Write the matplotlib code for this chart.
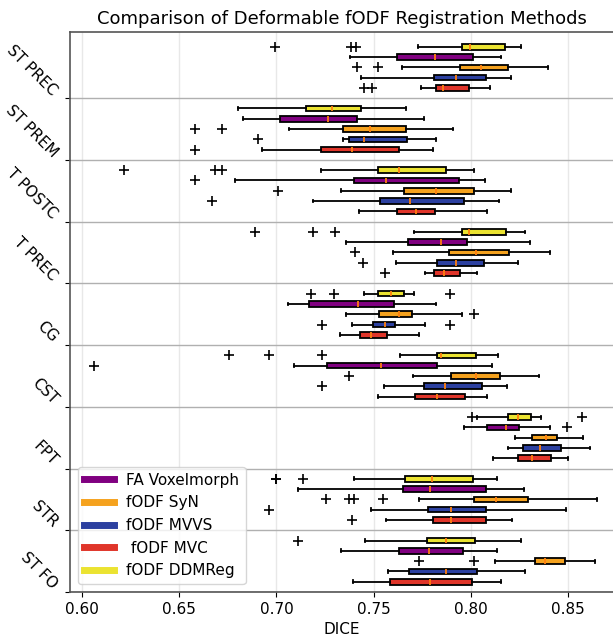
import matplotlib
matplotlib.use("Agg")
import matplotlib.pyplot as plt
from matplotlib.lines import Line2D

tracts = ["ST PREC", "ST PREM", "T POSTC", "T PREC", "CG", "CST", "FPT", "STR", "ST FO"]

# order top-to-bottom inside each group
methods = ["fODF DDMReg", "FA Voxelmorph", "fODF SyN", "fODF MVVS", " fODF MVC"]
colors = {"FA Voxelmorph": "#800080", "fODF SyN": "#f5a21e", "fODF MVVS": "#2c40a0",
          " fODF MVC": "#e0352a", "fODF DDMReg": "#ebe331"}
legend_order = ["FA Voxelmorph", "fODF SyN", "fODF MVVS", " fODF MVC", "fODF DDMReg"]

# per method: whisker low, q1, median, q3, whisker high (one value per tract)
ddmreg_lo  = [0.7727, 0.6801, 0.7231, 0.7707, 0.7449, 0.7634, 0.8030, 0.7400, 0.7455]
ddmreg_q1  = [0.7957, 0.7152, 0.7521, 0.7953, 0.7525, 0.7824, 0.8189, 0.7659, 0.7772]
ddmreg_med = [0.7994, 0.7287, 0.7630, 0.7990, 0.7590, 0.7844, 0.8240, 0.7798, 0.7872]
ddmreg_q3  = [0.8175, 0.7437, 0.7872, 0.8179, 0.7657, 0.8026, 0.8308, 0.8012, 0.8020]
ddmreg_hi  = [0.8260, 0.7665, 0.8018, 0.8280, 0.7707, 0.8141, 0.8359, 0.8137, 0.8256]
ddmreg_out = [[0.6993, 0.7384, 0.7408], [], [0.6218, 0.6682, 0.6718], [0.6888, 0.7186, 0.7303],
              [0.7176, 0.7297, 0.7893], [0.6757, 0.6960, 0.7237], [0.8004, 0.8571],
              [0.6997, 0.7000, 0.7136], [0.7112]]

voxel_lo  = [0.7380, 0.6829, 0.6785, 0.7358, 0.7061, 0.7090, 0.7963, 0.7110, 0.7334]
voxel_q1  = [0.7620, 0.7021, 0.7400, 0.7675, 0.7168, 0.7259, 0.8084, 0.7650, 0.7628]
voxel_med = [0.7818, 0.7263, 0.7566, 0.7844, 0.7418, 0.7536, 0.8179, 0.7792, 0.7786]
voxel_q3  = [0.8012, 0.7416, 0.7941, 0.7978, 0.7604, 0.7826, 0.8246, 0.8076, 0.7959]
voxel_hi  = [0.8155, 0.7761, 0.8074, 0.8304, 0.7822, 0.8111, 0.8407, 0.8274, 0.8133]
voxel_out = [[], [], [0.6581], [], [], [0.6061], [0.8494], [], []]

syn_lo  = [0.7646, 0.7063, 0.7334, 0.7600, 0.7358, 0.7701, 0.8228, 0.7731, 0.8125]
syn_q1  = [0.7943, 0.7342, 0.7655, 0.7889, 0.7529, 0.7897, 0.8316, 0.8018, 0.8330]
syn_med = [0.8050, 0.7479, 0.7822, 0.8028, 0.7630, 0.8024, 0.8387, 0.8131, 0.8383]
syn_q3  = [0.8191, 0.7665, 0.8014, 0.8195, 0.7699, 0.8149, 0.8441, 0.8296, 0.8486]
syn_hi  = [0.8397, 0.7907, 0.8209, 0.8407, 0.7953, 0.8353, 0.8575, 0.8647, 0.8639]
syn_out = [[0.7414, 0.7525], [0.6581, 0.6722], [0.7009], [0.7402], [0.8018], [0.7372], [],
           [0.7257, 0.7374, 0.7398, 0.7550], [0.7735, 0.8014]]

mvvs_lo  = [0.7433, 0.7344, 0.7186, 0.7616, 0.7388, 0.7554, 0.8193, 0.7485, 0.7574]
mvvs_q1  = [0.7812, 0.7374, 0.7533, 0.7824, 0.7499, 0.7757, 0.8270, 0.7782, 0.7683]
mvvs_med = [0.7923, 0.7451, 0.7685, 0.7925, 0.7558, 0.7868, 0.8357, 0.7899, 0.7872]
mvvs_q3  = [0.8078, 0.7671, 0.7965, 0.8070, 0.7612, 0.8058, 0.8462, 0.8080, 0.8034]
mvvs_hi  = [0.8207, 0.7822, 0.8143, 0.8240, 0.7766, 0.8187, 0.8611, 0.8490, 0.8280]
mvvs_out = [[], [0.6906], [0.6670], [0.7443], [0.7235, 0.7893], [0.7237], [], [0.6962], []]

mvc_lo  = [0.7743, 0.6926, 0.7423, 0.7766, 0.7326, 0.7525, 0.8113, 0.7564, 0.7394]
mvc_q1  = [0.7820, 0.7229, 0.7622, 0.7812, 0.7431, 0.7715, 0.8242, 0.7804, 0.7582]
mvc_med = [0.7858, 0.7388, 0.7717, 0.7864, 0.7489, 0.7826, 0.8312, 0.7899, 0.7792]
mvc_q3  = [0.7990, 0.7630, 0.7818, 0.7943, 0.7570, 0.7969, 0.8411, 0.8076, 0.8008]
mvc_hi  = [0.8098, 0.7804, 0.8084, 0.8030, 0.7735, 0.8084, 0.8498, 0.8211, 0.8155]
mvc_out = [[0.7449, 0.7493], [0.6581], [], [0.7558], [], [], [], [0.7388], []]

data = {
    "fODF DDMReg": (ddmreg_lo, ddmreg_q1, ddmreg_med, ddmreg_q3, ddmreg_hi, ddmreg_out),
    "FA Voxelmorph": (voxel_lo, voxel_q1, voxel_med, voxel_q3, voxel_hi, voxel_out),
    "fODF SyN": (syn_lo, syn_q1, syn_med, syn_q3, syn_hi, syn_out),
    "fODF MVVS": (mvvs_lo, mvvs_q1, mvvs_med, mvvs_q3, mvvs_hi, mvvs_out),
    " fODF MVC": (mvc_lo, mvc_q1, mvc_med, mvc_q3, mvc_hi, mvc_out),
}

fig = plt.figure(figsize=(6.13, 6.41), dpi=100)
ax = fig.add_axes([0.114, 0.0765, 0.886, 0.8735])

n_per = len(methods) + 1
for k, m in enumerate(methods):
    lo, q1, med, q3, hi, out = data[m]
    stats = []
    for g in range(len(tracts)):
        stats.append(dict(whislo=lo[g], q1=q1[g], med=med[g], q3=q3[g], whishi=hi[g],
                          fliers=out[g]))
    pos = [g * n_per + k + 1 for g in range(len(tracts))]
    ax.bxp(stats, positions=pos, widths=0.55, vert=False, patch_artist=True,
           showfliers=True, manage_ticks=False,
           boxprops=dict(facecolor=colors[m], edgecolor="black", linewidth=1.3),
           medianprops=dict(color="#ff7f0e", linewidth=1.3),
           whiskerprops=dict(color="black", linewidth=1.3),
           capprops=dict(color="black", linewidth=1.3),
           flierprops=dict(marker="+", markeredgecolor="black", markersize=7.5,
                           markeredgewidth=1.2, linestyle="none"))

ticks = [(g + 1) * n_per for g in range(len(tracts))]
ax.set_yticks(ticks)
ax.set_yticklabels(tracts, rotation=-45, ha="right", va="bottom", fontsize=11)
ax.set_ylim(len(tracts) * n_per, -0.43)
ax.set_xlim(0.5938, 0.8731)
ax.set_xticks([0.60, 0.65, 0.70, 0.75, 0.80, 0.85])
ax.tick_params(axis="x", labelsize=11)
ax.set_xlabel("DICE", fontsize=11)
ax.set_title("Comparison of Deformable fODF Registration Methods", fontsize=13)

ax.xaxis.grid(True, color="#e8e8e8", linewidth=1)
ax.yaxis.grid(True, color="#b0b0b0", linewidth=1)
ax.set_axisbelow(True)
ax.spines["right"].set_visible(False)
for s in ["left", "top", "bottom"]:
    ax.spines[s].set_color("#555555")
    ax.spines[s].set_linewidth(1.2)

handles = [Line2D([0], [0], color=colors[m], lw=5) for m in legend_order]
ax.legend(handles, legend_order, loc="lower left", fontsize=11)

fig.savefig("out.png", dpi=100)
